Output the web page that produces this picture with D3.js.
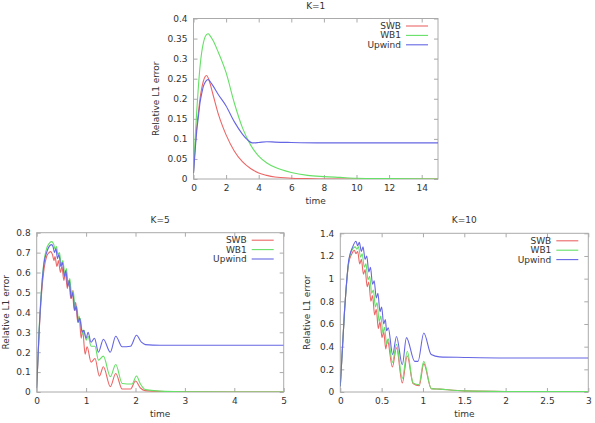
<!DOCTYPE html>
<html>
<head>
<meta charset="utf-8">
<script src="https://cdn.jsdelivr.net/npm/d3@7"></script>
<style>
  html, body { margin: 0; padding: 0; background: #fff; }
  svg { display: block; }
  text { font-family: "DejaVu Sans", "Liberation Sans", sans-serif; fill: #333; }
</style>
</head>
<body>
<svg id="chart" width="595" height="423"></svg>
<script>
// ---------- DATA ----------
const seriesNames = ["SWB", "WB1", "Upwind"];
const seriesColors = ["#ec6666", "#66e066", "#6666e4"];

// K=1
const k1XTicks = [0, 2, 4, 6, 8, 10, 12, 14];
const k1YTicks = [0, 0.05, 0.1, 0.15, 0.2, 0.25, 0.3, 0.35, 0.4];
const k1SWB = [[0,0.015],[0.1,0.08],[0.2,0.13],[0.3,0.165],[0.4,0.2],[0.5,0.225],[0.6,0.243],[0.7,0.254],[0.8,0.258],[0.9,0.252],[1.0,0.24],[1.2,0.21],[1.5,0.165],[1.8,0.13],[2.0,0.11],[2.5,0.07],[3.0,0.043],[3.5,0.026],[4.0,0.015],[4.5,0.009],[5.0,0.005],[6.0,0.002],[7.0,0.001],[8.0,0.0],[15.0,0.0]];
const k1WB1 = [[0,0.015],[0.1,0.1],[0.2,0.17],[0.3,0.23],[0.4,0.28],[0.5,0.315],[0.6,0.338],[0.7,0.353],[0.8,0.36],[0.9,0.362],[1.0,0.358],[1.2,0.345],[1.5,0.318],[2.0,0.265],[2.5,0.19],[3.0,0.128],[3.5,0.085],[4.0,0.057],[4.5,0.04],[5.0,0.029],[6.0,0.016],[7.0,0.009],[8.0,0.006],[9.0,0.004],[10.0,0.002],[12.0,0.001],[15.0,0.0]];
const k1Upwind = [[0,0.015],[0.1,0.07],[0.2,0.12],[0.3,0.155],[0.4,0.19],[0.5,0.212],[0.6,0.23],[0.7,0.24],[0.8,0.246],[0.9,0.248],[1.0,0.244],[1.2,0.232],[1.5,0.212],[2.0,0.182],[2.5,0.143],[3.0,0.112],[3.3,0.098],[3.6,0.09],[4.0,0.091],[4.5,0.093],[5.0,0.092],[6.0,0.091],[8.0,0.09],[10.0,0.09],[15.0,0.09]];

// K=5
const k5XTicks = [0, 1, 2, 3, 4, 5];
const k5YTicks = [0, 0.1, 0.2, 0.3, 0.4, 0.5, 0.6, 0.7, 0.8];
const k5SWB = [[0,0.02],[0.05,0.3],[0.1,0.5],[0.15,0.62],[0.2,0.68],[0.25,0.7],[0.28,0.705],[0.32,0.69],[0.35,0.66],[0.37,0.68],[0.41,0.63],[0.44,0.66],[0.48,0.6],[0.51,0.63],[0.55,0.56],[0.58,0.6],[0.62,0.52],[0.65,0.56],[0.69,0.47],[0.72,0.51],[0.76,0.41],[0.79,0.45],[0.83,0.35],[0.86,0.38],[0.9,0.27],[0.93,0.31],[0.98,0.19],[1.02,0.227],[1.1,0.15],[1.18,0.168],[1.27,0.08],[1.35,0.127],[1.49,0.027],[1.6,0.093],[1.73,0.015],[1.9,0.015],[2.0,0.055],[2.1,0.02],[2.2,0.007],[2.6,0.002],[3.0,0.001],[5.0,0.0]];
const k5WB1 = [[0,0.02],[0.05,0.32],[0.1,0.53],[0.15,0.66],[0.2,0.72],[0.25,0.745],[0.3,0.755],[0.34,0.745],[0.37,0.72],[0.4,0.73],[0.43,0.69],[0.46,0.7],[0.5,0.64],[0.53,0.66],[0.57,0.59],[0.6,0.62],[0.64,0.54],[0.67,0.57],[0.71,0.48],[0.74,0.51],[0.78,0.41],[0.81,0.43],[0.85,0.35],[0.88,0.37],[0.93,0.29],[0.96,0.31],[1.0,0.26],[1.04,0.28],[1.1,0.23],[1.18,0.23],[1.25,0.16],[1.35,0.18],[1.49,0.077],[1.6,0.138],[1.73,0.043],[1.93,0.04],[2.02,0.08],[2.1,0.04],[2.2,0.012],[2.6,0.003],[3.0,0.001],[5.0,0.0]];
const k5Upwind = [[0,0.02],[0.05,0.31],[0.1,0.52],[0.15,0.65],[0.2,0.7],[0.25,0.73],[0.3,0.74],[0.33,0.73],[0.36,0.7],[0.39,0.72],[0.42,0.67],[0.45,0.69],[0.49,0.63],[0.52,0.65],[0.56,0.58],[0.59,0.61],[0.63,0.53],[0.66,0.56],[0.7,0.47],[0.73,0.5],[0.77,0.41],[0.8,0.43],[0.84,0.35],[0.87,0.37],[0.92,0.3],[0.95,0.31],[1.0,0.27],[1.04,0.3],[1.1,0.25],[1.17,0.27],[1.25,0.2],[1.35,0.265],[1.49,0.2],[1.6,0.28],[1.73,0.227],[1.9,0.23],[2.02,0.285],[2.12,0.25],[2.2,0.238],[2.5,0.235],[5.0,0.235]];

// K=10
const k10XTicks = [0, 0.5, 1, 1.5, 2, 2.5, 3];
const k10YTicks = [0, 0.2, 0.4, 0.6, 0.8, 1, 1.2, 1.4];
const k10SWB = [[0,0.05],[0.05,0.7],[0.1,1.13],[0.14,1.22],[0.17,1.25],[0.19,1.22],[0.21,1.24],[0.235,1.13],[0.255,1.17],[0.28,1.04],[0.3,1.08],[0.325,0.93],[0.345,0.97],[0.37,0.8],[0.39,0.85],[0.415,0.68],[0.435,0.73],[0.46,0.56],[0.48,0.62],[0.505,0.48],[0.525,0.53],[0.55,0.38],[0.57,0.46],[0.63,0.22],[0.68,0.39],[0.75,0.08],[0.81,0.32],[0.88,0.075],[0.955,0.055],[1.01,0.25],[1.1,0.03],[1.2,0.025],[1.5,0.01],[2.0,0.005],[3.0,0.003]];
const k10WB1 = [[0,0.05],[0.05,0.7],[0.1,1.14],[0.14,1.25],[0.18,1.28],[0.2,1.26],[0.22,1.28],[0.245,1.19],[0.265,1.22],[0.29,1.1],[0.31,1.13],[0.335,0.99],[0.355,1.02],[0.38,0.87],[0.4,0.9],[0.425,0.75],[0.445,0.79],[0.47,0.62],[0.49,0.67],[0.515,0.52],[0.535,0.57],[0.56,0.42],[0.58,0.47],[0.63,0.26],[0.68,0.42],[0.75,0.12],[0.81,0.36],[0.88,0.08],[0.95,0.065],[1.01,0.27],[1.1,0.03],[1.2,0.025],[1.5,0.01],[2.0,0.005],[3.0,0.003]];
const k10Upwind = [[0,0.05],[0.05,0.7],[0.1,1.15],[0.15,1.28],[0.19,1.33],[0.21,1.29],[0.23,1.32],[0.255,1.24],[0.275,1.28],[0.3,1.17],[0.32,1.2],[0.345,1.06],[0.365,1.1],[0.39,0.95],[0.41,0.98],[0.435,0.83],[0.455,0.87],[0.48,0.71],[0.5,0.75],[0.525,0.6],[0.545,0.64],[0.56,0.54],[0.58,0.567],[0.633,0.33],[0.68,0.49],[0.75,0.24],[0.8,0.48],[0.9,0.27],[0.94,0.27],[1.01,0.52],[1.1,0.33],[1.2,0.31],[1.5,0.305],[2.0,0.3],[3.0,0.3]];

// ---------- DRAW ----------
const svg = d3.select("#chart");

function panel(cfg) {
  const g = svg.append("g");
  const x = d3.scaleLinear().domain(cfg.xDomain).range([cfg.left, cfg.right]);
  const y = d3.scaleLinear().domain(cfg.yDomain).range([cfg.bottom, cfg.top]);
  const tickLen = 4;
  const fmt = v => String(+v.toFixed(3));

  const axB = d3.axisBottom(x).tickValues(cfg.xTicks).tickSize(-tickLen).tickPadding(6).tickFormat(fmt);
  const axT = d3.axisTop(x).tickValues(cfg.xTicks).tickSize(-tickLen).tickFormat("");
  const axL = d3.axisLeft(y).tickValues(cfg.yTicks).tickSize(-tickLen).tickPadding(6).tickFormat(fmt);
  const axR = d3.axisRight(y).tickValues(cfg.yTicks).tickSize(-tickLen).tickFormat("");

  function style(sel) {
    sel.select(".domain").remove();
    sel.selectAll(".tick line").attr("stroke", "#aaa").attr("stroke-width", 1);
    sel.selectAll(".tick text").attr("font-size", 9).attr("fill", "#333")
      .attr("font-family", "'DejaVu Sans', 'Liberation Sans', sans-serif");
  }
  g.append("g").attr("transform", `translate(0,${cfg.bottom})`).call(axB).call(style);
  g.append("g").attr("transform", `translate(0,${cfg.top})`).call(axT).call(style);
  g.append("g").attr("transform", `translate(${cfg.left},0)`).call(axL).call(style);
  g.append("g").attr("transform", `translate(${cfg.right},0)`).call(axR).call(style);

  g.append("rect")
    .attr("x", cfg.left).attr("y", cfg.top)
    .attr("width", cfg.right - cfg.left).attr("height", cfg.bottom - cfg.top)
    .attr("fill", "none").attr("stroke", "#aaa").attr("stroke-width", 1);

  const line = d3.line().x(d => x(d[0])).y(d => y(d[1])).curve(d3.curveMonotoneX);
  const clipId = "clip" + cfg.id;
  g.append("clipPath").attr("id", clipId).append("rect")
    .attr("x", cfg.left).attr("y", cfg.top - 2)
    .attr("width", cfg.right - cfg.left).attr("height", cfg.bottom - cfg.top + 2);
  cfg.series.forEach((s, i) => {
    g.append("path").datum(s)
      .attr("clip-path", `url(#${clipId})`)
      .attr("fill", "none").attr("stroke", seriesColors[i])
      .attr("stroke-width", 1.1).attr("stroke-linejoin", "round")
      .attr("d", line);
  });

  seriesNames.forEach((n, i) => {
    const ly = cfg.top + 7.5 + i * 9.4;
    g.append("text").attr("x", cfg.right - 37).attr("y", ly)
      .attr("text-anchor", "end").attr("dominant-baseline", "central")
      .attr("font-size", 9).text(n);
    g.append("line")
      .attr("x1", cfg.right - 32).attr("x2", cfg.right - 10)
      .attr("y1", ly).attr("y2", ly)
      .attr("stroke", seriesColors[i]).attr("stroke-width", 1.1);
  });

  g.append("text").attr("x", (cfg.left + cfg.right) / 2).attr("y", cfg.top - 13)
    .attr("text-anchor", "middle").attr("dominant-baseline", "central")
    .attr("font-size", 9).text(cfg.title);
  g.append("text").attr("x", (cfg.left + cfg.right) / 2).attr("y", cfg.bottom + 22)
    .attr("text-anchor", "middle").attr("dominant-baseline", "central")
    .attr("font-size", 9).text("time");
  g.append("text")
    .attr("transform", `translate(${cfg.yLabelX},${(cfg.top + cfg.bottom) / 2}) rotate(-90)`)
    .attr("text-anchor", "middle").attr("dominant-baseline", "central")
    .attr("font-size", 9).text("Relative L1 error");
}

panel({ id: 1, title: "K=1", left: 193.5, right: 438, top: 18.5, bottom: 179,
  xDomain: [0, 15], yDomain: [0, 0.4], xTicks: k1XTicks, yTicks: k1YTicks,
  yLabelX: 155.5, series: [k1SWB, k1WB1, k1Upwind] });
panel({ id: 5, title: "K=5", left: 36.7, right: 283.7, top: 232.7, bottom: 392,
  xDomain: [0, 5], yDomain: [0, 0.8], xTicks: k5XTicks, yTicks: k5YTicks,
  yLabelX: 5.5, series: [k5SWB, k5WB1, k5Upwind] });
panel({ id: 10, title: "K=10", left: 340.3, right: 588.3, top: 233.3, bottom: 392,
  xDomain: [0, 3], yDomain: [0, 1.4], xTicks: k10XTicks, yTicks: k10YTicks,
  yLabelX: 307, series: [k10SWB, k10WB1, k10Upwind] });
</script>
</body>
</html>
